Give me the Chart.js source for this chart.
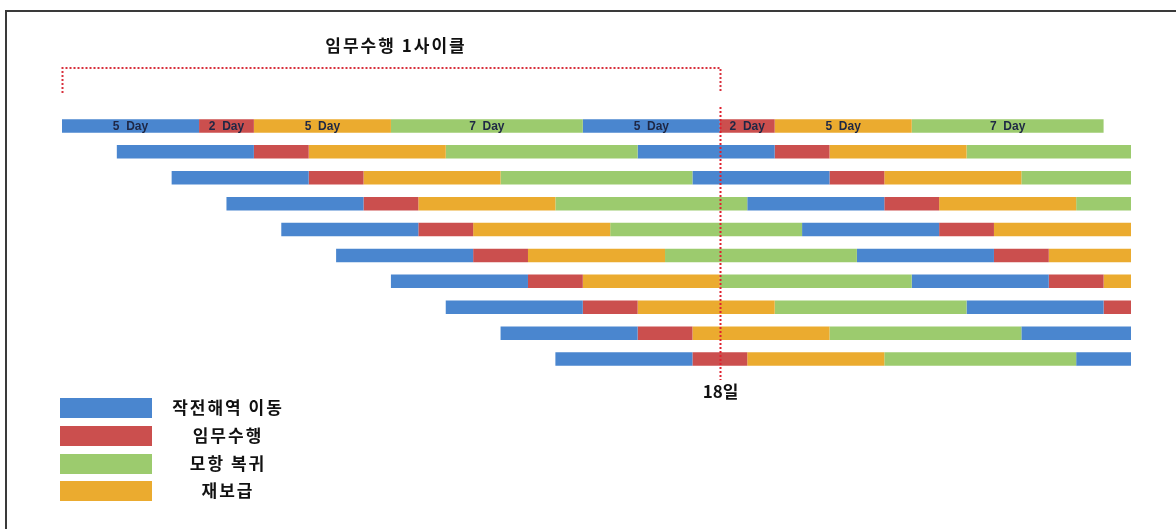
<!DOCTYPE html>
<html>
<head>
<meta charset="utf-8">
<script src="https://cdn.jsdelivr.net/npm/chart.js@4.4.1/dist/chart.umd.min.js"></script>
<style>
html,body{margin:0;padding:0;background:#fff;}
#wrap{position:relative;width:1176px;height:529px;}
</style>
</head>
<body>
<div id="wrap"><canvas id="c"></canvas></div>
<script>
// ---- data ----
const rowLabels = ['1','2','3','4','5','6','7','8','9','10'];
const rowStartDays = [0, 2, 4, 6, 8, 10, 12, 14, 16, 18];
const phaseNames = ['작전해역 이동', '임무수행', '재보급', '모항 복귀'];
const phaseDays = [5, 2, 5, 7];
const phaseColors = ['#4A86CF', '#CB4F4E', '#EBAB2F', '#9CCB6E'];
const cyclesPerRow = 2;
const axisMaxDay = 39;
const firstRowLabels = ['5  Day', '2  Day', '5  Day', '7  Day', '5  Day', '2  Day', '5  Day', '7  Day'];
const legendOrder = [0, 1, 3, 2];
const markerDay = 24;
const markerLabel = '18일';
const cycleLabel = '임무수행 1사이클';
const cycleBracket = [0, 24];

// ---- build floating-bar datasets ----
const cycleLength = phaseDays.reduce((a, b) => a + b, 0);
const datasets = [];
for (let c = 0; c < cyclesPerRow; c++) {
  let offset = c * cycleLength;
  phaseDays.forEach((d, p) => {
    const o = offset;
    datasets.push({
      label: phaseNames[p],
      data: rowStartDays.map(s => [s + o, s + o + d]),
      backgroundColor: phaseColors[p],
      borderWidth: 0,
      grouped: false,
      barPercentage: 0.52,
      categoryPercentage: 1.0
    });
    offset += d;
  });
}

const KFONT = '"Noto Sans CJK KR", "Noto Sans", sans-serif';

const overlay = {
  id: 'overlay',
  beforeDraw(chart) {
    const ctx = chart.ctx;
    ctx.save();
    ctx.strokeStyle = '#3a3a3a';
    ctx.lineWidth = 2;
    ctx.beginPath();
    ctx.moveTo(6, 529);
    ctx.lineTo(6, 11);
    ctx.lineTo(1176, 11);
    ctx.stroke();
    ctx.restore();
  },
  afterDatasetsDraw(chart) {
    const ctx = chart.ctx;
    const xs = chart.scales.x, ys = chart.scales.y;
    ctx.save();
    // first-row labels
    ctx.font = 'bold 12px "Liberation Sans", Arial, sans-serif';
    ctx.fillStyle = '#1E2745';
    ctx.textAlign = 'center';
    ctx.textBaseline = 'middle';
    const y0 = ys.getPixelForValue(0);
    datasets.forEach((ds, i) => {
      const r = ds.data[0];
      const cx = (xs.getPixelForValue(r[0]) + xs.getPixelForValue(Math.min(r[1], axisMaxDay))) / 2;
      ctx.fillText(firstRowLabels[i], cx, y0 + 1);
    });
    // marker line
    const mx = Math.round(xs.getPixelForValue(markerDay)) + 0.5;
    ctx.strokeStyle = '#E0202E';
    ctx.lineWidth = 2;
    ctx.setLineDash([2, 2]);
    ctx.beginPath();
    ctx.moveTo(mx, 107);
    ctx.lineTo(mx, 380);
    ctx.stroke();
    // bracket
    const bx0 = Math.round(xs.getPixelForValue(cycleBracket[0])) + 0.5;
    const bx1 = Math.round(xs.getPixelForValue(cycleBracket[1])) + 0.5;
    ctx.strokeStyle = '#D8303C';
    ctx.beginPath();
    ctx.moveTo(bx0, 93);
    ctx.lineTo(bx0, 68);
    ctx.lineTo(bx1, 68);
    ctx.lineTo(bx1, 93);
    ctx.stroke();
    ctx.setLineDash([]);
    // texts
    ctx.fillStyle = '#111';
    ctx.font = 'bold 17px ' + KFONT;
    ctx.letterSpacing = '2px';
    ctx.fillText(cycleLabel, 396, 46);
    ctx.letterSpacing = '0px';
    ctx.fillText(markerLabel, mx, 392);
    // legend
    const ly = [408, 436, 464, 491];
    legendOrder.forEach((p, k) => {
      ctx.fillStyle = phaseColors[p];
      ctx.fillRect(60, ly[k] - 10, 92, 20);
      ctx.fillStyle = '#111';
      ctx.letterSpacing = '2px';
      ctx.fillText(phaseNames[p], 228, ly[k]);
    });
    ctx.letterSpacing = '0px';
    ctx.restore();
  }
};

new Chart(document.getElementById('c'), {
  type: 'bar',
  data: { labels: rowLabels, datasets },
  options: {
    indexAxis: 'y',
    responsive: true,
    maintainAspectRatio: false,
    animation: false,
    layout: { padding: { left: 62, right: 45, top: 113, bottom: 157 } },
    plugins: { legend: { display: false }, tooltip: { enabled: false } },
    scales: {
      x: { type: 'linear', min: 0, max: axisMaxDay, display: false },
      y: { display: false, offset: true }
    }
  },
  plugins: [overlay]
});
</script>
</body>
</html>
